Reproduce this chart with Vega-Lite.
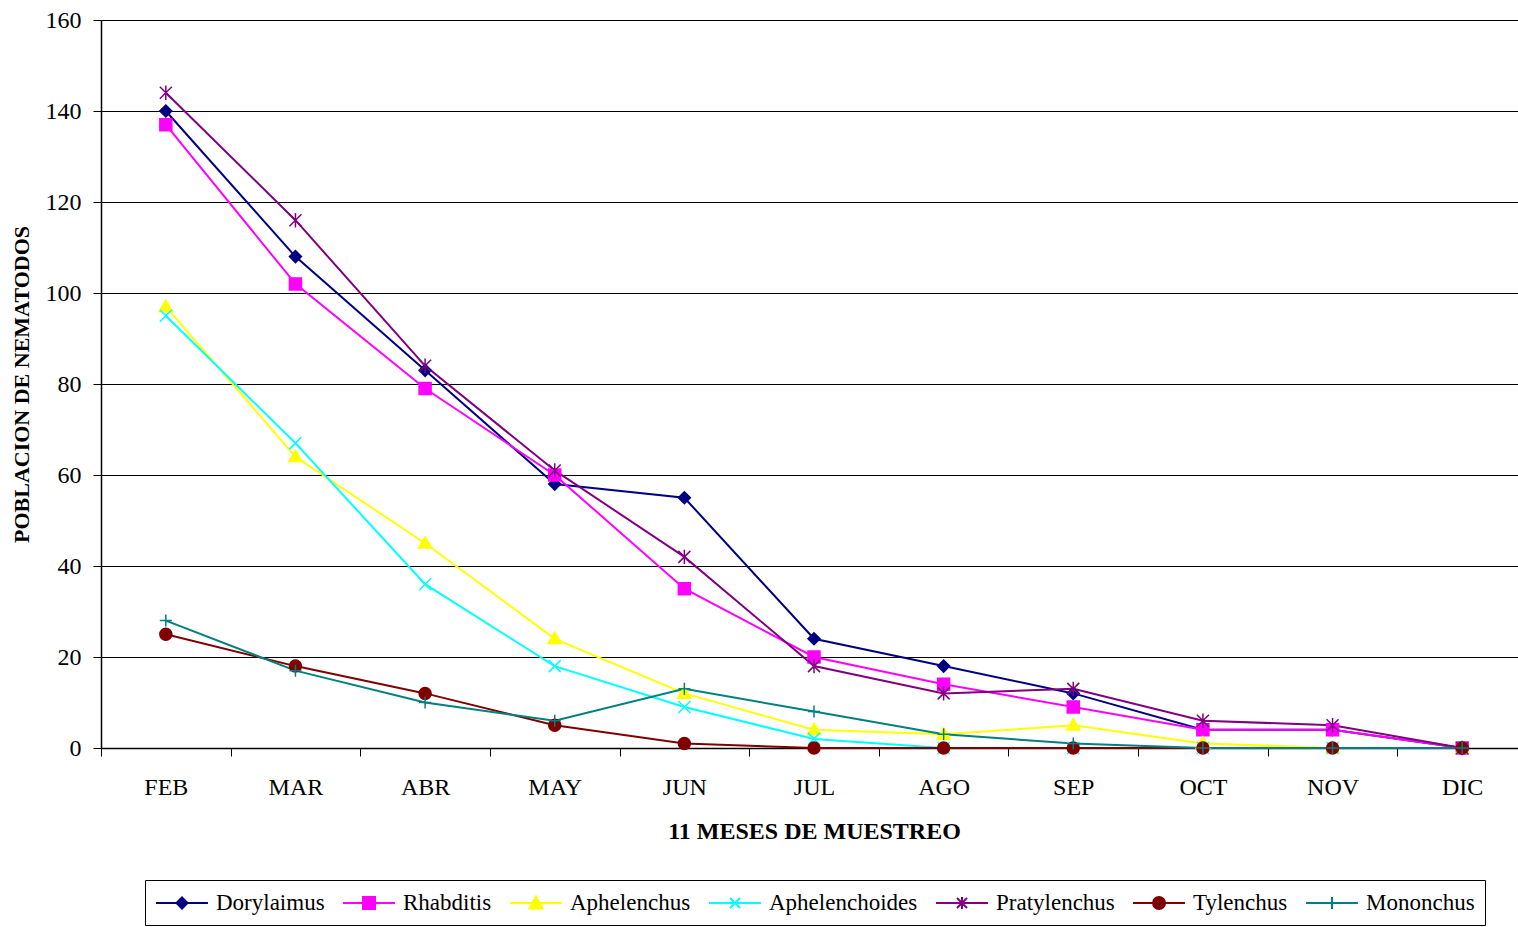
{
  "$schema": "https://vega.github.io/schema/vega-lite/v6.json",
  "width": 1417,
  "height": 728,
  "autosize": {"type": "none"},
  "padding": {"left": 101, "top": 20, "right": 0, "bottom": 179},
  "background": "white",
  "config": {
    "font": "Liberation Serif",
    "view": {"stroke": null},
    "axis": {"labelFont": "Liberation Serif", "titleFont": "Liberation Serif", "labelColor": "black", "titleColor": "black"},
    "legend": {"labelFont": "Liberation Serif"},
    "point": {"size": 144, "strokeWidth": 1.5, "opacity": 1}
  },
  "data": {"values": [
    {"mes":"FEB","especie":"Dorylaimus","n":140},{"mes":"MAR","especie":"Dorylaimus","n":108},{"mes":"ABR","especie":"Dorylaimus","n":83},{"mes":"MAY","especie":"Dorylaimus","n":58},{"mes":"JUN","especie":"Dorylaimus","n":55},{"mes":"JUL","especie":"Dorylaimus","n":24},{"mes":"AGO","especie":"Dorylaimus","n":18},{"mes":"SEP","especie":"Dorylaimus","n":12},{"mes":"OCT","especie":"Dorylaimus","n":4},{"mes":"NOV","especie":"Dorylaimus","n":4},{"mes":"DIC","especie":"Dorylaimus","n":0},
    {"mes":"FEB","especie":"Rhabditis","n":137},{"mes":"MAR","especie":"Rhabditis","n":102},{"mes":"ABR","especie":"Rhabditis","n":79},{"mes":"MAY","especie":"Rhabditis","n":60},{"mes":"JUN","especie":"Rhabditis","n":35},{"mes":"JUL","especie":"Rhabditis","n":20},{"mes":"AGO","especie":"Rhabditis","n":14},{"mes":"SEP","especie":"Rhabditis","n":9},{"mes":"OCT","especie":"Rhabditis","n":4},{"mes":"NOV","especie":"Rhabditis","n":4},{"mes":"DIC","especie":"Rhabditis","n":0},
    {"mes":"FEB","especie":"Aphelenchus","n":97},{"mes":"MAR","especie":"Aphelenchus","n":64},{"mes":"ABR","especie":"Aphelenchus","n":45},{"mes":"MAY","especie":"Aphelenchus","n":24},{"mes":"JUN","especie":"Aphelenchus","n":12},{"mes":"JUL","especie":"Aphelenchus","n":4},{"mes":"AGO","especie":"Aphelenchus","n":3},{"mes":"SEP","especie":"Aphelenchus","n":5},{"mes":"OCT","especie":"Aphelenchus","n":1},{"mes":"NOV","especie":"Aphelenchus","n":0},{"mes":"DIC","especie":"Aphelenchus","n":0},
    {"mes":"FEB","especie":"Aphelenchoides","n":95},{"mes":"MAR","especie":"Aphelenchoides","n":67},{"mes":"ABR","especie":"Aphelenchoides","n":36},{"mes":"MAY","especie":"Aphelenchoides","n":18},{"mes":"JUN","especie":"Aphelenchoides","n":9},{"mes":"JUL","especie":"Aphelenchoides","n":2},{"mes":"AGO","especie":"Aphelenchoides","n":0},{"mes":"SEP","especie":"Aphelenchoides","n":0},{"mes":"OCT","especie":"Aphelenchoides","n":0},{"mes":"NOV","especie":"Aphelenchoides","n":0},{"mes":"DIC","especie":"Aphelenchoides","n":0},
    {"mes":"FEB","especie":"Pratylenchus","n":144},{"mes":"MAR","especie":"Pratylenchus","n":116},{"mes":"ABR","especie":"Pratylenchus","n":84},{"mes":"MAY","especie":"Pratylenchus","n":61},{"mes":"JUN","especie":"Pratylenchus","n":42},{"mes":"JUL","especie":"Pratylenchus","n":18},{"mes":"AGO","especie":"Pratylenchus","n":12},{"mes":"SEP","especie":"Pratylenchus","n":13},{"mes":"OCT","especie":"Pratylenchus","n":6},{"mes":"NOV","especie":"Pratylenchus","n":5},{"mes":"DIC","especie":"Pratylenchus","n":0},
    {"mes":"FEB","especie":"Tylenchus","n":25},{"mes":"MAR","especie":"Tylenchus","n":18},{"mes":"ABR","especie":"Tylenchus","n":12},{"mes":"MAY","especie":"Tylenchus","n":5},{"mes":"JUN","especie":"Tylenchus","n":1},{"mes":"JUL","especie":"Tylenchus","n":0},{"mes":"AGO","especie":"Tylenchus","n":0},{"mes":"SEP","especie":"Tylenchus","n":0},{"mes":"OCT","especie":"Tylenchus","n":0},{"mes":"NOV","especie":"Tylenchus","n":0},{"mes":"DIC","especie":"Tylenchus","n":0},
    {"mes":"FEB","especie":"Mononchus","n":28},{"mes":"MAR","especie":"Mononchus","n":17},{"mes":"ABR","especie":"Mononchus","n":10},{"mes":"MAY","especie":"Mononchus","n":6},{"mes":"JUN","especie":"Mononchus","n":13},{"mes":"JUL","especie":"Mononchus","n":8},{"mes":"AGO","especie":"Mononchus","n":3},{"mes":"SEP","especie":"Mononchus","n":1},{"mes":"OCT","especie":"Mononchus","n":0},{"mes":"NOV","especie":"Mononchus","n":0},{"mes":"DIC","especie":"Mononchus","n":0}
  ]},
  "encoding": {
    "x": {
      "field": "mes", "type": "ordinal", "bandPosition": 0.5,
      "sort": ["FEB","MAR","ABR","MAY","JUN","JUL","AGO","SEP","OCT","NOV","DIC"],
      "scale": {"type": "band", "paddingInner": 0, "paddingOuter": 0, "range": [0, 1426]},
      "axis": {
        "title": "11 MESES DE MUESTREO", "titleFontSize": 24, "titleFontWeight": "bold", "titlePadding": 20,
        "labelAngle": 0, "labelFontSize": 24, "labelPadding": 19,
        "tickBand": "extent", "tickSize": 8, "tickColor": "black", "domainColor": "black", "domainWidth": 1.5, "grid": false
      }
    },
    "y": {
      "field": "n", "type": "quantitative",
      "scale": {"domain": [0, 160], "nice": false},
      "axis": {
        "title": "POBLACION DE NEMATODOS", "titleFontSize": 22, "titleFontWeight": "bold", "titlePadding": 12,
        "values": [0,20,40,60,80,100,120,140,160], "labelFontSize": 24, "labelPadding": 12,
        "tickSize": 8, "tickColor": "black", "domainColor": "black", "domainWidth": 1.5,
        "grid": true, "gridColor": "black", "gridWidth": 1, "gridOpacity": 1
      }
    }
  },
  "layer": [
    {
      "mark": {"type": "line", "strokeWidth": 2},
      "encoding": {
        "stroke": {
          "field": "especie", "type": "nominal",
          "scale": {"domain": ["Dorylaimus","Rhabditis","Aphelenchus","Aphelenchoides","Pratylenchus","Tylenchus","Mononchus"],
                    "range": ["#000080","#FF00FF","#FFFF00","#00FFFF","#800080","#800000","#008080"]},
          "legend": {
            "title": null, "orient": "none", "legendX": 44, "legendY": 860, "direction": "horizontal", "columns": 7,
            "strokeColor": "black", "fillColor": "white", "padding": 10, "cornerRadius": 0,
            "symbolSize": 576, "symbolStrokeWidth": 2, "labelFontSize": 23, "labelOffset": 35, "columnPadding": 14,
            "labelColor": "black", "symbolOpacity": 1,
            "encode": {"symbols": {"update": {
              "shape": {"signal": "({'Dorylaimus':'M-1,0H3.33M1.167,-0.46L1.627,0L1.167,0.46L0.707,0Z','Rhabditis':'M-1,0H3.33M0.667,-0.5H1.667V0.5H0.667Z','Aphelenchus':'M-1,0H3.33M1.167,-0.55L1.717,0.45H0.617Z','Aphelenchoides':'M-1,0H3.33M0.747,-0.42L1.587,0.42M0.747,0.42L1.587,-0.42','Pratylenchus':'M-1,0H3.33M0.747,-0.42L1.587,0.42M0.747,0.42L1.587,-0.42M1.167,-0.5V0.5','Tylenchus':'M-1,0H3.33M0.667,0A0.5,0.5,0,1,0,1.667,0A0.5,0.5,0,1,0,0.667,0Z','Mononchus':'M-1,0H3.33M1.167,-0.5V0.5'})[datum.value]"},
              "fill": {"signal": "({'Dorylaimus':'#000080','Rhabditis':'#FF00FF','Aphelenchus':'#FFFF00','Aphelenchoides':'transparent','Pratylenchus':'transparent','Tylenchus':'#800000','Mononchus':'transparent'})[datum.value]"}
            }}}
          }
        }
      }
    },
    {"transform": [{"filter": "datum.especie === 'Dorylaimus'"}], "mark": {"type": "point", "shape": "M0,-1L1,0L0,1L-1,0Z", "fill": "#000080", "stroke": "#000080", "filled": true}},
    {"transform": [{"filter": "datum.especie === 'Rhabditis'"}], "mark": {"type": "point", "shape": "M-1,-1H1V1H-1Z", "fill": "#FF00FF", "stroke": "#FF00FF", "filled": true}},
    {"transform": [{"filter": "datum.especie === 'Aphelenchus'"}], "mark": {"type": "point", "shape": "M0,-1.1L1.1,0.8H-1.1Z", "fill": "#FFFF00", "stroke": "#FFFF00", "filled": true}},
    {"transform": [{"filter": "datum.especie === 'Aphelenchoides'"}], "mark": {"type": "point", "shape": "M-1,-1L1,1M-1,1L1,-1", "fill": "transparent", "stroke": "#00FFFF", "filled": false}},
    {"transform": [{"filter": "datum.especie === 'Pratylenchus'"}], "mark": {"type": "point", "shape": "M-1,-1L1,1M-1,1L1,-1M0,-1.2V1.2", "fill": "transparent", "stroke": "#800080", "filled": false}},
    {"transform": [{"filter": "datum.especie === 'Tylenchus'"}], "mark": {"type": "point", "shape": "M-1,0A1,1,0,1,0,1,0A1,1,0,1,0,-1,0Z", "fill": "#800000", "stroke": "#800000", "filled": true}},
    {"transform": [{"filter": "datum.especie === 'Mononchus'"}], "mark": {"type": "point", "shape": "M-1,0H1M0,-1V1", "fill": "transparent", "stroke": "#008080", "filled": false}}
  ]
}
